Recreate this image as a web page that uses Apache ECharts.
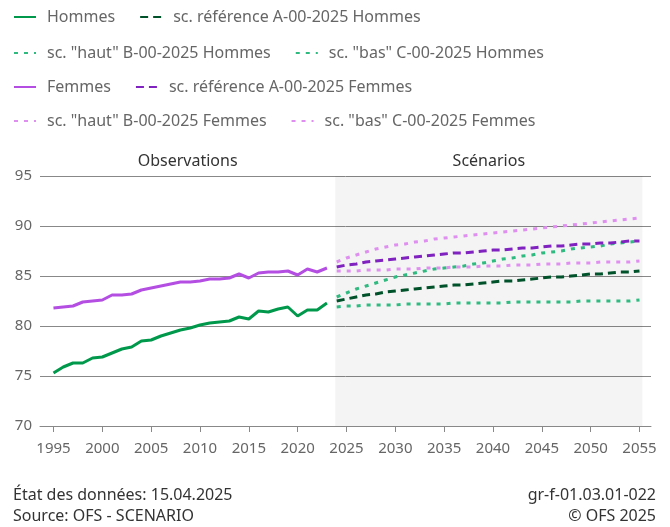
<!DOCTYPE html>
<html>
<head>
<meta charset="utf-8">
<title>Espérance de vie à la naissance</title>
<script src="https://cdn.jsdelivr.net/npm/echarts@6/dist/echarts.min.js"></script>
<style>
  html, body { margin: 0; padding: 0; background: #fff; }
  #chart { width: 670px; height: 527px; }
</style>
</head>
<body>
<div id="chart"></div>
<script>
// observations
var obsYears = [1995, 1996, 1997, 1998, 1999, 2000, 2001, 2002, 2003, 2004,
  2005, 2006, 2007, 2008, 2009, 2010, 2011, 2012, 2013, 2014,
  2015, 2016, 2017, 2018, 2019, 2020, 2021, 2022, 2023]
var hommesObs = [75.3, 75.9, 76.3, 76.3, 76.8, 76.9, 77.3, 77.7, 77.9, 78.5,
  78.6, 79.0, 79.3, 79.6, 79.8, 80.1, 80.3, 80.4, 80.5, 80.9,
  80.7, 81.5, 81.4, 81.7, 81.9, 81.0, 81.6, 81.6, 82.3]
var femmesObs = [81.8, 81.9, 82.0, 82.4, 82.5, 82.6, 83.1, 83.1, 83.2, 83.6,
  83.8, 84.0, 84.2, 84.4, 84.4, 84.5, 84.7, 84.7, 84.8, 85.2,
  84.8, 85.3, 85.4, 85.4, 85.5, 85.1, 85.7, 85.4, 85.8]

// scénarios
var scYears = [2024, 2025, 2026, 2027, 2028, 2029, 2030, 2031, 2032, 2033,
  2034, 2035, 2036, 2037, 2038, 2039, 2040, 2041, 2042, 2043,
  2044, 2045, 2046, 2047, 2048, 2049, 2050, 2051, 2052, 2053, 2054, 2055]
var refHommes = [82.5, 82.7, 82.9, 83.1, 83.2, 83.4, 83.5, 83.6, 83.7, 83.8,
  83.9, 84.0, 84.1, 84.1, 84.2, 84.3, 84.4, 84.5, 84.5, 84.6,
  84.7, 84.8, 84.9, 84.9, 85.0, 85.1, 85.2, 85.2, 85.3, 85.4, 85.4, 85.5]
var hautHommes = [82.9, 83.3, 83.7, 84.0, 84.3, 84.6, 84.9, 85.1, 85.3, 85.5,
  85.7, 85.8, 85.9, 86.0, 86.2, 86.3, 86.5, 86.7, 86.8, 87.0,
  87.1, 87.3, 87.4, 87.5, 87.7, 87.8, 87.9, 88.0, 88.2, 88.3, 88.4, 88.5]
var basHommes = [81.9, 82.0, 82.0, 82.1, 82.1, 82.1, 82.1, 82.2, 82.2, 82.2,
  82.2, 82.2, 82.3, 82.3, 82.3, 82.3, 82.3, 82.3, 82.4, 82.4,
  82.4, 82.4, 82.4, 82.4, 82.4, 82.5, 82.5, 82.5, 82.5, 82.5, 82.5, 82.6]
var refFemmes = [85.9, 86.1, 86.2, 86.4, 86.5, 86.6, 86.7, 86.8, 86.9, 87.0,
  87.1, 87.2, 87.3, 87.3, 87.4, 87.5, 87.6, 87.6, 87.7, 87.8,
  87.8, 87.9, 88.0, 88.0, 88.1, 88.2, 88.2, 88.3, 88.3, 88.4, 88.5, 88.5]
var hautFemmes = [86.4, 86.8, 87.1, 87.4, 87.7, 87.9, 88.1, 88.2, 88.4, 88.5,
  88.7, 88.8, 88.9, 89.0, 89.1, 89.2, 89.3, 89.4, 89.5, 89.6,
  89.7, 89.8, 89.9, 90.0, 90.1, 90.2, 90.3, 90.4, 90.5, 90.6, 90.7, 90.8]
var basFemmes = [85.5, 85.5, 85.5, 85.6, 85.6, 85.6, 85.7, 85.7, 85.7, 85.8,
  85.8, 85.8, 85.9, 85.9, 85.9, 86.0, 86.0, 86.0, 86.1, 86.1,
  86.1, 86.2, 86.2, 86.2, 86.3, 86.3, 86.3, 86.4, 86.4, 86.4, 86.4, 86.5]

var tickYears = [1995, 2000, 2005, 2010, 2015, 2020, 2025, 2030, 2035, 2040, 2045, 2050, 2055]

var FONT = 'Noto Sans'
var X_MIN = 1993.62
var X_MAX = 2056.18
var SC_START = 2023.85
var SC_END = 2055.3

function pairs(xs, ys) {
  return xs.map(function(x, i) { return [x, ys[i]] })
}

function lineSeries(name, xs, ys, color, type, cap) {
  return {
    name: name,
    type: 'line',
    data: pairs(xs, ys),
    symbol: 'none',
    smooth: false,
    lineStyle: { color: color, width: 3, type: type, cap: cap || 'butt' },
    itemStyle: { color: color }
  }
}

function legendRow(top, names) {
  return {
    left: 13,
    top: top,
    padding: 0,
    itemGap: 24,
    itemWidth: 22,
    itemHeight: 14,
    selectedMode: false,
    itemStyle: { opacity: 0 },
    data: names,
    textStyle: {
      fontFamily: FONT,
      fontSize: 16,
      color: '#666',
      padding: [0, 0, 0, 6]
    }
  }
}

var chart = echarts.init(document.getElementById('chart'), null, { renderer: 'canvas' })

var series = [
  lineSeries('Hommes', obsYears, hommesObs, '#00994c', 'solid'),
  lineSeries('sc. référence A-00-2025 Hommes', scYears, refHommes, '#00522a', [8, 5]),
  lineSeries('sc. "haut" B-00-2025 Hommes', scYears, hautHommes, '#2fba80', [4, 6]),
  lineSeries('sc. "bas" C-00-2025 Hommes', scYears, basHommes, '#2fba80', [4, 6]),
  lineSeries('Femmes', obsYears, femmesObs, '#b44ee3', 'solid'),
  lineSeries('sc. référence A-00-2025 Femmes', scYears, refFemmes, '#8022bf', [8, 5]),
  lineSeries('sc. "haut" B-00-2025 Femmes', scYears, hautFemmes, '#df8ff0', [4, 6]),
  lineSeries('sc. "bas" C-00-2025 Femmes', scYears, basFemmes, '#df8ff0', [4, 6])
]

series[0].markArea = {
  silent: true,
  label: {
    show: true,
    position: 'top',
    distance: 7,
    fontFamily: FONT,
    fontSize: 16,
    color: '#333'
  },
  data: [
    [{ name: 'Observations', xAxis: X_MIN, itemStyle: { color: 'rgba(0,0,0,0)' } }, { xAxis: SC_START }],
    [{ name: 'Scénarios', xAxis: SC_START, itemStyle: { color: 'rgba(0,0,0,0.042)' } }, { xAxis: SC_END }]
  ]
}

chart.setOption({
  animation: false,
  backgroundColor: '#fff',
  textStyle: { fontFamily: FONT },
  legend: [
    legendRow(9, ['Hommes', 'sc. référence A-00-2025 Hommes']),
    legendRow(45, ['sc. "haut" B-00-2025 Hommes', 'sc. "bas" C-00-2025 Hommes']),
    legendRow(79, ['Femmes', 'sc. référence A-00-2025 Femmes']),
    legendRow(113, ['sc. "haut" B-00-2025 Femmes', 'sc. "bas" C-00-2025 Femmes'])
  ],
  grid: {
    left: 40,
    right: 19,
    top: 176,
    bottom: 101,
    containLabel: false
  },
  xAxis: {
    type: 'value',
    min: X_MIN,
    max: X_MAX,
    axisLine: { show: true, lineStyle: { color: '#888', width: 1 } },
    axisTick: {
      show: true,
      length: 6,
      customValues: tickYears,
      lineStyle: { color: '#888' }
    },
    axisLabel: {
      customValues: tickYears,
      margin: 15,
      fontFamily: FONT,
      fontSize: 15,
      color: '#666',
      formatter: function(v) { return String(v) }
    },
    splitLine: { show: false }
  },
  yAxis: {
    type: 'value',
    min: 70,
    max: 95,
    interval: 5,
    axisLine: { show: false },
    axisTick: { show: false },
    axisLabel: {
      margin: 8,
      fontFamily: FONT,
      fontSize: 15,
      color: '#666'
    },
    splitLine: { show: true, lineStyle: { color: '#888', width: 1 } }
  },
  graphic: [
    { type: 'text', left: 13, top: 487, style: { text: 'État des données: 15.04.2025', font: '16px "Noto Sans"', fill: '#333' } },
    { type: 'text', left: 13, top: 508, style: { text: 'Source: OFS - SCENARIO', font: '16px "Noto Sans"', fill: '#333' } },
    { type: 'text', right: 14, top: 487, style: { text: 'gr-f-01.03.01-022', font: '16px "Noto Sans"', fill: '#333' } },
    { type: 'text', right: 14, top: 508, style: { text: '© OFS 2025', font: '16px "Noto Sans"', fill: '#333' } }
  ],
  series: series
})
</script>
</body>
</html>
